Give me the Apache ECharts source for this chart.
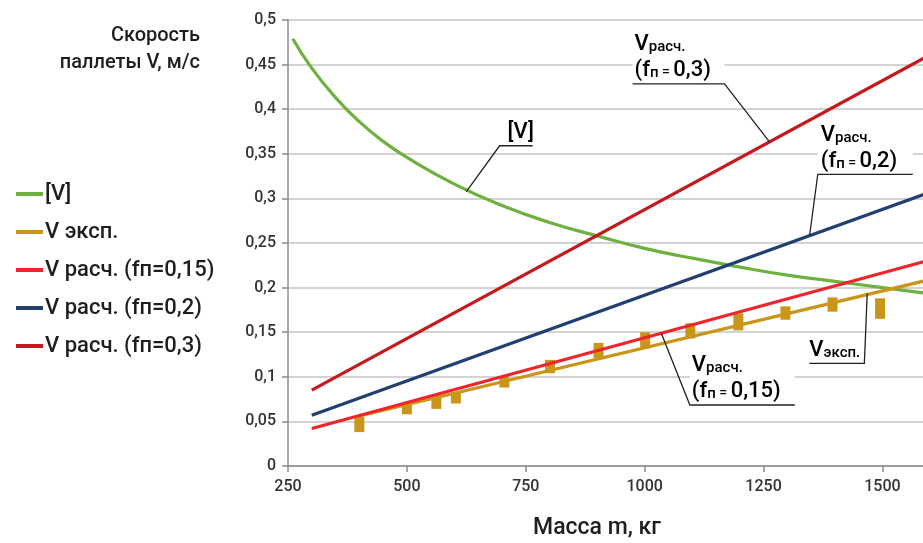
<!DOCTYPE html>
<html>
<head>
<meta charset="utf-8">
<script src="https://cdn.jsdelivr.net/npm/echarts@6/dist/echarts.min.js"></script>
<style>
  html, body { margin: 0; padding: 0; background: #fff; }
  #chart { width: 923px; height: 543px; }
</style>
</head>
<body>
<div id="chart"></div>
<script>
// допускаемая скорость [V]
const massLimit = [260, 300, 350, 400, 450, 500, 600, 700, 800, 900, 1000, 1100, 1200, 1300, 1400, 1500, 1600]
const speedLimit = [0.479, 0.446, 0.413, 0.386, 0.364, 0.346, 0.316, 0.292, 0.273, 0.258, 0.244, 0.233, 0.223, 0.214, 0.207, 0.2, 0.193]

// эксперимент: разброс замеров и линия тренда
const massExp = [400, 500, 562, 603, 705, 801, 903, 1001, 1096, 1197, 1296, 1395, 1495]
const expLow = [0.038, 0.058, 0.064, 0.07, 0.088, 0.104, 0.121, 0.132, 0.143, 0.152, 0.164, 0.173, 0.165]
const expHigh = [0.055, 0.07, 0.08, 0.083, 0.1, 0.119, 0.138, 0.15, 0.16, 0.171, 0.179, 0.189, 0.188]
const trendMass = [400, 1600]
const trendSpeed = [0.056, 0.209]

// расчёт при разных fп
const calcMass = [300, 1600]
const calc015 = [0.042, 0.231]
const calc02 = [0.057, 0.307]
const calc03 = [0.085, 0.461]

const yTicks = [0, 0.05, 0.1, 0.15, 0.2, 0.25, 0.3, 0.35, 0.4, 0.45, 0.5]
const xTicks = [250, 500, 750, 1000, 1250, 1500]

const FONT = 'Roboto, "Liberation Sans", sans-serif'
const COLORS = {
  limit: '#6fb140',
  exp: '#c9961a',
  c015: '#f0242b',
  c02: '#223f72',
  c03: '#c41a1f',
}

const pairs = (xs, ys) => xs.map((x, i) => [x, ys[i]])

const chart = echarts.init(document.getElementById('chart'))

const lineSeries = (name, xs, ys, color, smooth) => ({
  name,
  type: 'line',
  smooth: !!smooth,
  showSymbol: false,
  silent: true,
  lineStyle: { color, width: 3.2 },
  itemStyle: { color },
  data: pairs(xs, ys),
})

chart.setOption({
  animation: false,
  grid: { left: 288, width: 642, top: 20, bottom: 77, outerBoundsMode: 'none' },
  legend: {
    orient: 'vertical',
    left: 11,
    top: 178,
    itemWidth: 27,
    itemHeight: 4,
    itemGap: 16,
    icon: 'rect',
    data: ['[V]', 'V эксп.', 'V расч. (fп=0,15)', 'V расч. (fп=0,2)', 'V расч. (fп=0,3)'],
    textStyle: { fontFamily: FONT, fontSize: 22, fontWeight: 500, color: '#1e1e1e', padding: [0, 0, 0, -3] },
  },
  xAxis: {
    type: 'value',
    min: xTicks[0],
    max: 1600,
    interval: 250,
    name: 'Масса m, кг',
    nameLocation: 'middle',
    nameGap: 51,
    nameTextStyle: { fontFamily: FONT, fontSize: 23, fontWeight: 500, color: '#1e1e1e', padding: [0, 24, 0, 0] },
    splitLine: { show: false },
    axisLine: { lineStyle: { color: '#8c8c8c', width: 1.5 } },
    axisTick: { show: true, length: 6, lineStyle: { color: '#8c8c8c', width: 1.5 } },
    axisLabel: {
      fontFamily: FONT,
      fontSize: 16,
      fontWeight: 500,
      color: '#333',
      margin: 13,
      showMaxLabel: false,
      formatter: (v) => String(v),
    },
  },
  yAxis: {
    type: 'value',
    min: yTicks[0],
    max: yTicks[yTicks.length - 1],
    interval: 0.05,
    splitLine: { lineStyle: { color: '#c4c4c4', width: 1.5 } },
    axisLine: { show: true, lineStyle: { color: '#8c8c8c', width: 1.5 } },
    axisTick: { show: true, length: 6, lineStyle: { color: '#8c8c8c', width: 1.5 } },
    axisLabel: {
      fontFamily: FONT,
      fontSize: 16,
      fontWeight: 500,
      color: '#333',
      margin: 12,
      formatter: (v) => String(+v.toFixed(2)).replace('.', ','),
    },
  },
  series: [
    {
      name: 'разброс',
      type: 'custom',
      silent: true,
      z: 1,
      encode: { x: 0, y: [1, 2] },
      data: massExp.map((m, i) => [m, expLow[i], expHigh[i]]),
      renderItem: (params, api) => {
        const lo = api.coord([api.value(0), api.value(1)])
        const hi = api.coord([api.value(0), api.value(2)])
        return {
          type: 'rect',
          shape: { x: lo[0] - 5, y: hi[1], width: 10, height: lo[1] - hi[1] },
          style: { fill: COLORS.exp },
        }
      },
    },
    lineSeries('[V]', massLimit, speedLimit, COLORS.limit, true),
    lineSeries('V эксп.', trendMass, trendSpeed, COLORS.exp),
    lineSeries('V расч. (fп=0,15)', calcMass, calc015, COLORS.c015),
    lineSeries('V расч. (fп=0,2)', calcMass, calc02, COLORS.c02),
    lineSeries('V расч. (fп=0,3)', calcMass, calc03, COLORS.c03),
  ],
})

// выноски: точка на линии, излом, длина полки (px), сторона полки
const notes = [
  { text: '{b|[V]}', anchor: [625, 0.3075], elbow: [695, 0.359], len: 33, side: 'right', pad: 8, rows: 1 },
  { text: '{b|V}{s|расч.}\n{b|(f}{s|п}{m| = }{b|0,3)}', anchor: [1262, 0.3636], elbow: [1168, 0.4283], len: 92, side: 'left', pad: 2, rows: 2 },
  { text: '{b|V}{s|расч.}\n{b|(f}{s|п}{m| = }{b|0,2)}', anchor: [1347, 0.259], elbow: [1364, 0.327], len: 95, side: 'right', pad: 3, rows: 2 },
  { text: '{b|V}{s|расч.}\n{b|(f}{s|п}{m| = }{b|0,15)}', anchor: [1035, 0.1488], elbow: [1095, 0.0684], len: 105, side: 'right', pad: 2, rows: 2 },
  { text: '{b|V}{s|эксп.}', anchor: [1468, 0.1936], elbow: [1462, 0.1151], len: 55, side: 'left', pad: 0, rows: 1 },
]

const rich = {
  b: { fontFamily: FONT, fontSize: 22, fontWeight: 500, color: '#1a1a1a', lineHeight: 26, verticalAlign: 'bottom' },
  s: { fontFamily: FONT, fontSize: 15, fontWeight: 500, color: '#1a1a1a', lineHeight: 26, verticalAlign: 'bottom', padding: [0, 0, 1, 0] },
  m: { fontFamily: FONT, fontSize: 14, fontWeight: 500, color: '#1a1a1a', lineHeight: 26, verticalAlign: 'bottom', padding: [0, 0, 2, 0] },
}

const graphics = [
  {
    type: 'text',
    x: 200,
    y: 49,
    style: {
      text: 'Скорость\nпаллеты V, м/с',
      fontFamily: FONT,
      fontSize: 20,
      fontWeight: 500,
      lineHeight: 27,
      fill: '#1e1e1e',
      align: 'right',
      verticalAlign: 'middle',
    },
  },
]

notes.forEach((n) => {
  const a = chart.convertToPixel({ gridIndex: 0 }, n.anchor)
  const e = chart.convertToPixel({ gridIndex: 0 }, n.elbow)
  const endX = n.side === 'left' ? e[0] - n.len : e[0] + n.len
  const left = Math.min(e[0], endX)
  const h = n.rows * 26 + 2
  graphics.push({
    type: 'rect',
    z: 10,
    shape: { x: left, y: e[1] - h, width: n.len, height: h - 1 },
    style: { fill: '#fff' },
  })
  graphics.push({
    type: 'polyline',
    z: 11,
    shape: { points: [a, e, [endX, e[1]]] },
    style: { stroke: '#222', lineWidth: 1.3, fill: null },
  })
  graphics.push({
    type: 'text',
    z: 12,
    x: left + n.pad,
    y: e[1] - 2,
    style: { text: n.text, rich, align: 'left', verticalAlign: 'bottom' },
  })
})

chart.setOption({ graphic: graphics })
</script>
</body>
</html>
